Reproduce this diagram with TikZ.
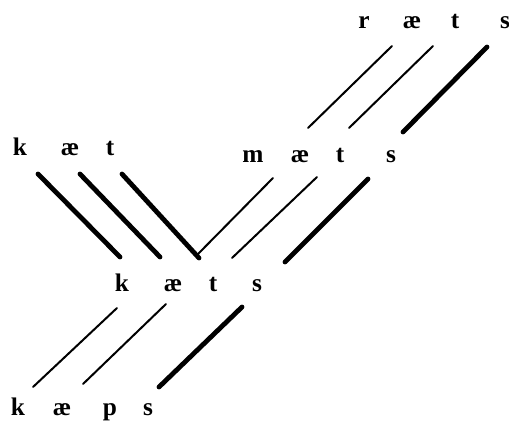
\documentclass[tikz,border=0pt]{standalone}
\usepackage{fontspec}
\setmainfont{Liberation Serif}
\begin{document}
\begin{tikzpicture}[x=0.75pt,y=-0.75pt,
  seg/.style={anchor=base,inner sep=0pt,font=\fontsize{19}{22}\selectfont\bfseries},
  thin/.style={line width=1.5pt,line cap=round},
  thick/.style={line width=3.6pt,line cap=round}]
\useasboundingbox (0,0) rectangle (509,421);
% rats
\node[seg] (r1) at (364,28) {r};
\node[seg] (r2) at (412,28) {æ};
\node[seg] (r3) at (455,28) {t};
\node[seg] (r4) at (505,28) {s};
% mats
\node[seg] (m1) at (253,162) {m};
\node[seg] (m2) at (300,162) {æ};
\node[seg] (m3) at (340,162) {t};
\node[seg] (m4) at (391,162) {s};
% kat
\node[seg] (c1) at (20,155) {k};
\node[seg] (c2) at (70,155) {æ};
\node[seg] (c3) at (110,155) {t};
% kats
\node[seg] (k1) at (122,291) {k};
\node[seg] (k2) at (173,291) {æ};
\node[seg] (k3) at (213,291) {t};
\node[seg] (k4) at (257,291) {s};
% kaps
\node[seg] (p1) at (18,415) {k};
\node[seg] (p2) at (62,415) {æ};
\node[seg] (p3) at (110,415) {p};
\node[seg] (p4) at (148,415) {s};
% line end points
\coordinate (ra) at (392,46);  \coordinate (rb) at (308,128);
\coordinate (ea) at (433,46);  \coordinate (eb) at (349,128);
\coordinate (sa) at (487,47);  \coordinate (sb) at (403,132);
\coordinate (ma) at (273,178); \coordinate (mb) at (197,255);
\coordinate (na) at (317,177); \coordinate (nb) at (232,258);
\coordinate (ta) at (368,179); \coordinate (tb) at (285,262);
\coordinate (ka) at (38,174);  \coordinate (kb) at (120,257);
\coordinate (aa) at (80,174);  \coordinate (ab) at (160,257);
\coordinate (ua) at (122,174); \coordinate (ub) at (199,258);
\coordinate (qa) at (117,308); \coordinate (qb) at (33,387);
\coordinate (wa) at (166,304); \coordinate (wb) at (83,384);
\coordinate (va) at (242,307); \coordinate (vb) at (159,387);
\draw[thin] (ra) -- (rb);
\draw[thin] (ea) -- (eb);
\draw[thick] (sa) -- (sb);
\draw[thin] (ma) -- (mb);
\draw[thin] (na) -- (nb);
\draw[thick] (ta) -- (tb);
\draw[thick] (ka) -- (kb);
\draw[thick] (aa) -- (ab);
\draw[thick] (ua) -- (ub);
\draw[thin] (qa) -- (qb);
\draw[thin] (wa) -- (wb);
\draw[thick] (va) -- (vb);
\end{tikzpicture}
\end{document}
